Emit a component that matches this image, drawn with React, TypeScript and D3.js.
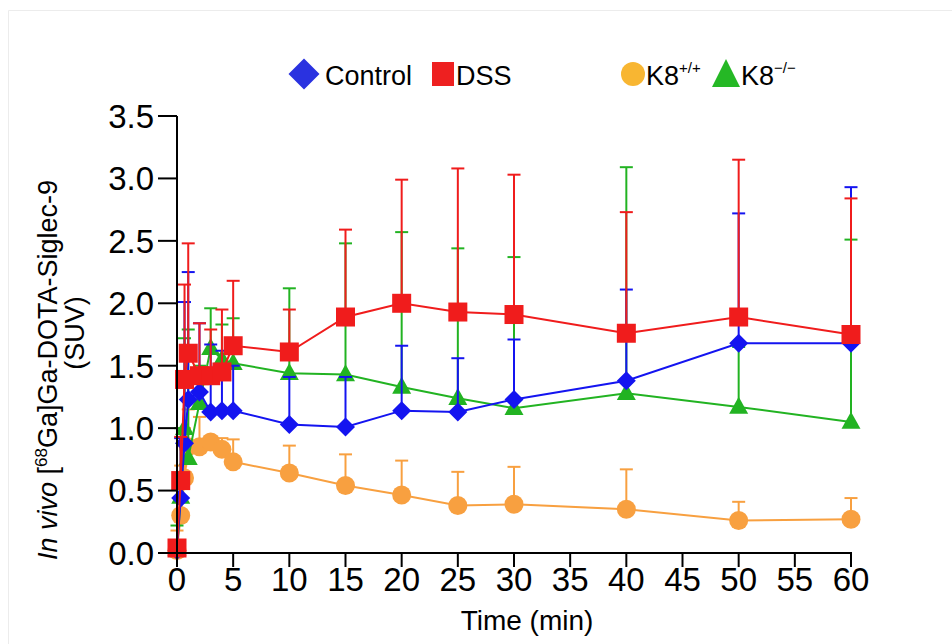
import React from "react";
import * as d3 from "d3";

const times = [0, 0.33, 0.67, 1, 2, 3, 4, 5, 10, 15, 20, 25, 30, 40, 50, 60];

const controlMean = [0.02, 0.44, 0.88, 1.23, 1.29, 1.13, 1.14, 1.14, 1.03, 1.01, 1.14, 1.13, 1.23, 1.38, 1.68, 1.68];
const controlUpper = [0.06, 0.92, 2.01, 2.25, 1.84, 1.67, 1.62, 1.5, 1.41, 1.41, 1.66, 1.56, 1.71, 2.11, 2.72, 2.93];

const dssMean = [0.04, 0.58, 1.39, 1.6, 1.42, 1.42, 1.45, 1.66, 1.61, 1.89, 2.0, 1.93, 1.91, 1.76, 1.89, 1.75];
const dssUpper = [0.1, 0.93, 2.15, 2.48, 1.84, 1.79, 1.95, 2.18, 1.95, 2.59, 2.99, 3.08, 3.03, 2.73, 3.15, 2.84];

const k8koMean = [0.03, 0.45, 1.0, 0.76, 1.2, 1.64, 1.55, 1.52, 1.44, 1.43, 1.33, 1.24, 1.16, 1.28, 1.17, 1.05];
const k8koUpper = [0.22, 1.0, 1.72, 1.79, 1.5, 1.96, 1.83, 1.88, 2.12, 2.48, 2.57, 2.44, 2.37, 3.09, 1.65, 2.51];

const k8wtMean = [0.02, 0.3, 0.6, 0.85, 0.85, 0.89, 0.83, 0.73, 0.64, 0.54, 0.465, 0.38, 0.39, 0.35, 0.26, 0.27];
const k8wtUpper = [0.18, 0.7, 1.0, 1.15, 1.09, 0.93, 0.92, 0.91, 0.86, 0.79, 0.74, 0.65, 0.69, 0.67, 0.41, 0.44];

const xTicks = [0, 5, 10, 15, 20, 25, 30, 35, 40, 45, 50, 55, 60];
const yTicks = [0, 0.5, 1, 1.5, 2, 2.5, 3, 3.5];

type Series = { name: string; mean: number[]; upper: number[]; color: string; shape: string };

const series: Series[] = [
  { name: "K8+/+", mean: k8wtMean, upper: k8wtUpper, color: "#f8a040", shape: "circle" },
  { name: "K8-/-", mean: k8koMean, upper: k8koUpper, color: "#22b322", shape: "triangle" },
  { name: "Control", mean: controlMean, upper: controlUpper, color: "#1414f0", shape: "diamond" },
  { name: "DSS", mean: dssMean, upper: dssUpper, color: "#f01c1c", shape: "square" },
];

const FONT = "'Liberation Sans', Arial, Helvetica, sans-serif";

function Marker({ shape, x, y, color, s }: { shape: string; x: number; y: number; color: string; s: number }) {
  if (shape === "circle") return <circle cx={x} cy={y} r={s / 2} fill={color} />;
  if (shape === "square") return <rect x={x - s / 2} y={y - s / 2} width={s} height={s} fill={color} />;
  if (shape === "diamond")
    return <path d={`M${x},${y - s / 2}L${x + s / 2},${y}L${x},${y + s / 2}L${x - s / 2},${y}Z`} fill={color} />;
  const h = s * 0.9;
  return <path d={`M${x},${y - h * 0.6}L${x + s / 2},${y + h * 0.4}L${x - s / 2},${y + h * 0.4}Z`} fill={color} />;
}

export default function App() {
  const W = 952, H = 644;
  const x = d3.scaleLinear().domain([0, 60]).range([177, 851]);
  const y = d3.scaleLinear().domain([0, 3.5]).range([553, 116]);
  const line = d3.line<number>().x((_, i) => x(times[i])).y((v) => y(v));
  const cap = 6.5;

  return (
    <div>
      <style>{`body{margin:0;background:#fff}`}</style>
      <svg width={W} height={H} style={{ display: "block", fontFamily: FONT }}>
        <rect x={0} y={0} width={W} height={H} fill="#fff" />
        <path d={`M8.5,${H}V10.5H${W}`} fill="none" stroke="#ececec" strokeWidth={1} />

        {series.map((s) => (
          <g key={s.name}>
            <path d={line(s.mean) || ""} fill="none" stroke={s.color} strokeWidth={2} />
            {s.mean.map((m, i) => (
              <g key={i} stroke={s.color} strokeWidth={2}>
                <line x1={x(times[i])} x2={x(times[i])} y1={y(m)} y2={y(s.upper[i])} />
                <line x1={x(times[i]) - cap} x2={x(times[i]) + cap} y1={y(s.upper[i])} y2={y(s.upper[i])} />
              </g>
            ))}
            {s.mean.map((m, i) => (
              <Marker key={i} shape={s.shape} x={x(times[i])} y={y(m)} color={s.color} s={s.shape === "square" ? 19 : 19} />
            ))}
          </g>
        ))}

        {/* axes */}
        <g stroke="#000" strokeWidth={2}>
          <line x1={x(0)} x2={x(0)} y1={y(3.5)} y2={y(0) + 1} />
          <line x1={x(0) - 1} x2={x(60) + 1} y1={y(0)} y2={y(0)} />
          {yTicks.map((t) => (
            <line key={t} x1={x(0) - 19} x2={x(0)} y1={y(t)} y2={y(t)} />
          ))}
          {xTicks.map((t) => (
            <line key={t} x1={x(t)} x2={x(t)} y1={y(0)} y2={y(0) + 14} />
          ))}
        </g>
        <g fontSize={33} fill="#000">
          {yTicks.map((t) => (
            <text key={t} x={154} y={y(t)} dy="0.36em" textAnchor="end">
              {d3.format(".1f")(t)}
            </text>
          ))}
          {xTicks.map((t) => (
            <text key={t} x={x(t)} y={591} textAnchor="middle">
              {t}
            </text>
          ))}
        </g>
        <text x={527} y={630} fontSize={28} textAnchor="middle">Time (min)</text>

        <g fontSize={27}>
          <text transform="translate(57,370) rotate(-90)" textAnchor="middle">
            <tspan fontStyle="italic">In vivo</tspan>
            <tspan> [</tspan>
            <tspan fontSize={17} dy={-10}>68</tspan>
            <tspan dy={10}>Ga]Ga-DOTA-Siglec-9</tspan>
          </text>
          <text transform="translate(84,333) rotate(-90)" textAnchor="middle">(SUV)</text>
        </g>

        {/* legend */}
        <g fontSize={27}>
          <Marker shape="diamond" x={304} y={74} color="#2a32e0" s={31} />
          <text x={325} y={85}>Control</text>
          <rect x={432} y={62} width={22} height={24} fill="#ee2020" />
          <text x={456} y={85}>DSS</text>
          <circle cx={633} cy={74} r={12} fill="#f8b632" />
          <text x={646} y={85}>K8<tspan fontSize={15} dy={-12}>+/+</tspan></text>
          <path d="M726,59L740,87L712,87Z" fill="#25b825" />
          <text x={741} y={85}>K8<tspan fontSize={15} dy={-12}>−/−</tspan></text>
        </g>
      </svg>
    </div>
  );
}
